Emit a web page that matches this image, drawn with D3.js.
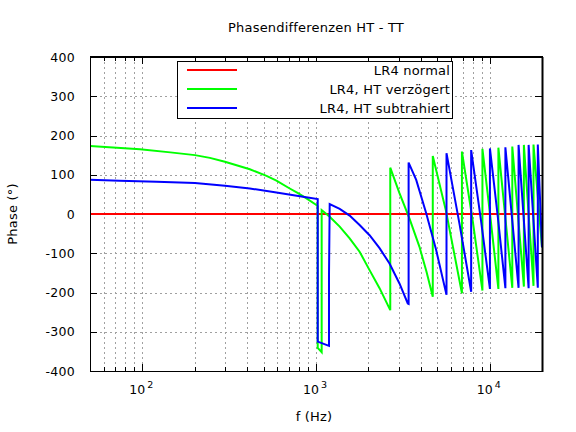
<!DOCTYPE html>
<html>
<head>
<meta charset="utf-8">
<script src="https://cdn.jsdelivr.net/npm/d3@7"></script>
<style>
  body { margin: 0; background: #fff; }
  text { font-family: "DejaVu Sans", sans-serif; fill: #000; }
</style>
</head>
<body>
<div id="chart"></div>
<script>
var width = 576, height = 432;
var plotLeft = 90, plotRight = 542, plotTop = 57, plotBottom = 371;

// values: [frequency in Hz, phase in degrees]
var normal = [[50, 0], [20000, 0]];

var verzoegert = [
  [50, 173], [97, 165], [145, 157], [201, 150], [245, 143], [299, 133], [416, 114], [519, 97],
  [592, 85], [706, 65], [788, 53], [881, 40], [1005, 23],
  [1023, 20], [1023, -341], [1078, -352], [1078, 10],
  [1199, -7], [1369, -32], [1562, -62], [1782, -96], [2034, -143], [2322, -189], [2676, -245],
  [2676, 118], [3023, 53], [3450, -11], [3937, -83], [4327, -147], [4702, -211],
  [4702, 148], [5600, 8], [6920, -202],
  [6920, 159], [8000, -20], [9080, -195],
  [9080, 166], [10100, -10], [11220, -191],
  [11220, 169], [13490, -188],
  [13490, 172], [15730, -185],
  [15730, 176], [17870, -183],
  [17870, 177], [20000, -85]
];

var subtrahiert = [
  [50, 87], [74, 85], [121, 82], [201, 79], [299, 72], [416, 65], [592, 55], [842, 44], [1023, 38],
  [1023, -325], [1188, -336], [1188, -154], [1199, 25],
  [1369, 13], [1562, -4], [1782, -28], [2034, -54], [2322, -87], [2650, -126], [3023, -177], [3375, -228],
  [3413, -229], [3413, 131], [3775, 87], [4309, 2], [4918, -92], [5640, -206],
  [5640, 155], [6700, -25], [7820, -198],
  [7820, 163], [8900, -15], [10030, -191],
  [10030, 167], [11150, -10], [12310, -189],
  [12310, 170], [14660, -188],
  [14660, 176], [16750, -189],
  [16750, 176], [18920, -188],
  [18920, 177], [20000, -85]
];

var seriesNames = ['LR4 normal', 'LR4, HT verzögert', 'LR4, HT subtrahiert'];
var seriesColors = ['#ff0000', '#00ff00', '#0000ff'];
var seriesData = [normal, verzoegert, subtrahiert];

var yTicks = [-400, -300, -200, -100, 0, 100, 200, 300, 400];
var xMajor = [100, 1000, 10000];
var xMajorExp = ['2', '3', '4'];
var xMinor = [];
[10, 100, 1000, 10000].forEach(function(dec) {
  for (var k = 2; k <= 9; k++) {
    if (dec * k > 50 && dec * k <= 20000) xMinor.push(dec * k);
  }
});

var x = d3.scaleLog().domain([50, 20000]).range([plotLeft, plotRight]);
var y = d3.scaleLinear().domain([-400, 400]).range([plotBottom, plotTop]);

var svg = d3.select('#chart')
    .append('svg')
    .attr('width', width)
    .attr('height', height);

svg.append('defs').append('clipPath').attr('id', 'plot')
    .append('rect')
    .attr('x', plotLeft).attr('y', plotTop)
    .attr('width', plotRight - plotLeft).attr('height', plotBottom - plotTop);

// grid
var grid = svg.append('g')
    .attr('stroke', '#a0a0a0')
    .attr('stroke-width', 1)
    .attr('stroke-dasharray', '2,3');

grid.selectAll('.gy')
    .data(yTicks.filter(function(d) { return d > -400 && d < 400; }))
    .enter().append('line')
    .attr('x1', plotLeft).attr('x2', plotRight)
    .attr('y1', function(d) { return Math.round(y(d)) + 0.5; })
    .attr('y2', function(d) { return Math.round(y(d)) + 0.5; });

grid.selectAll('.gx')
    .data(xMajor.concat(xMinor).filter(function(d) { return d < 20000; }))
    .enter().append('line')
    .attr('y1', plotTop).attr('y2', plotBottom)
    .attr('x1', function(d) { return Math.round(x(d)) + 0.5; })
    .attr('x2', function(d) { return Math.round(x(d)) + 0.5; });

// tick marks on all four sides, pointing inward
var ticks = svg.append('g').attr('stroke', '#000').attr('stroke-width', 1);

yTicks.forEach(function(d) {
  var yy = Math.round(y(d)) + 0.5;
  ticks.append('line').attr('x1', plotLeft).attr('x2', plotLeft + 7).attr('y1', yy).attr('y2', yy);
  ticks.append('line').attr('x1', plotRight - 7).attr('x2', plotRight).attr('y1', yy).attr('y2', yy);
});
xMajor.forEach(function(d) {
  var xx = Math.round(x(d)) + 0.5;
  ticks.append('line').attr('x1', xx).attr('x2', xx).attr('y1', plotBottom).attr('y2', plotBottom - 7);
  ticks.append('line').attr('x1', xx).attr('x2', xx).attr('y1', plotTop).attr('y2', plotTop + 7);
});
xMinor.forEach(function(d) {
  var xx = Math.round(x(d)) + 0.5;
  ticks.append('line').attr('x1', xx).attr('x2', xx).attr('y1', plotBottom).attr('y2', plotBottom - 4);
  ticks.append('line').attr('x1', xx).attr('x2', xx).attr('y1', plotTop).attr('y2', plotTop + 4);
});

// data lines
var line = d3.line()
    .x(function(d) { return x(d[0]); })
    .y(function(d) { return y(d[1]); });

svg.append('g').attr('clip-path', 'url(#plot)')
    .selectAll('path')
    .data(seriesData)
    .enter().append('path')
    .attr('d', line)
    .attr('fill', 'none')
    .attr('stroke', function(d, i) { return seriesColors[i]; })
    .attr('stroke-width', 2)
    .attr('stroke-linejoin', 'miter');

// border
svg.append('rect')
    .attr('x', plotLeft + 0.5).attr('y', plotTop + 0.5)
    .attr('width', plotRight - plotLeft).attr('height', plotBottom - plotTop)
    .attr('fill', 'none').attr('stroke', '#000').attr('stroke-width', 1);
svg.append('line').attr('x1', plotLeft).attr('x2', plotRight + 1).attr('y1', plotTop).attr('y2', plotTop)
    .attr('stroke', '#000').attr('stroke-width', 2);
svg.append('line').attr('x1', plotRight + 0.5).attr('x2', plotRight + 0.5).attr('y1', plotTop).attr('y2', plotBottom + 1)
    .attr('stroke', '#000').attr('stroke-width', 2);

// tick labels
svg.selectAll('.ylab')
    .data(yTicks)
    .enter().append('text')
    .attr('x', 75)
    .attr('y', function(d) { return y(d); })
    .attr('dy', '0.36em')
    .attr('text-anchor', 'end')
    .style('font-size', '12.5px')
    .style('letter-spacing', '0.3px')
    .text(function(d) { return d; });

var xl = svg.selectAll('.xlab')
    .data(xMajor)
    .enter().append('text')
    .attr('x', function(d) { return x(d) - 1; })
    .attr('y', 394)
    .attr('text-anchor', 'middle')
    .style('font-size', '12.5px');
xl.append('tspan').text('10');
xl.append('tspan')
    .attr('dy', -6)
    .attr('dx', 2)
    .style('font-size', '9.5px')
    .text(function(d, i) { return xMajorExp[i]; });

// titles
svg.append('text')
    .attr('x', 316).attr('y', 32)
    .attr('text-anchor', 'middle')
    .style('font-size', '13px')
    .style('letter-spacing', '0.2px')
    .text('Phasendifferenzen HT - TT');

svg.append('text')
    .attr('x', 314).attr('y', 421)
    .attr('text-anchor', 'middle')
    .style('font-size', '13px')
    .style('letter-spacing', '0.2px')
    .text('f (Hz)');

svg.append('text')
    .attr('transform', 'translate(17,214) rotate(-90)')
    .attr('text-anchor', 'middle')
    .style('font-size', '13px')
    .style('letter-spacing', '0.2px')
    .text('Phase (°)');

// legend
var legend = svg.append('g');
legend.append('rect')
    .attr('x', 177.5).attr('y', 61.5)
    .attr('width', 275).attr('height', 57)
    .attr('fill', '#fff').attr('stroke', '#000').attr('stroke-width', 1);

seriesNames.forEach(function(name, i) {
  var ly = 70 + i * 19;
  legend.append('line')
      .attr('x1', 187).attr('x2', 237)
      .attr('y1', ly).attr('y2', ly)
      .attr('stroke', seriesColors[i]).attr('stroke-width', 2);
  legend.append('text')
      .attr('x', 450).attr('y', ly)
      .attr('dy', '0.36em')
      .attr('text-anchor', 'end')
      .style('font-size', '13px')
      .style('letter-spacing', '0.2px')
      .text(name);
});
</script>
</body>
</html>
